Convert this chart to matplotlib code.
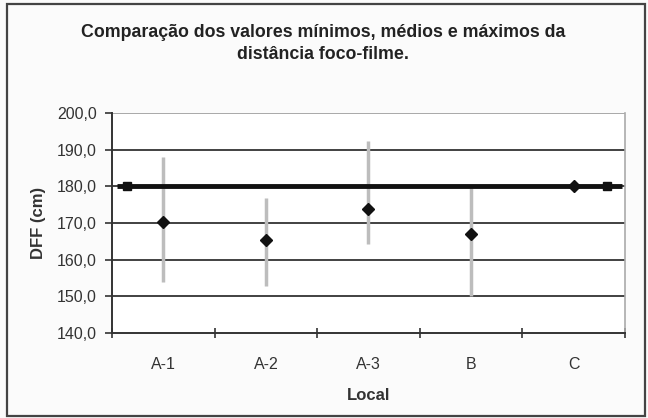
import numpy as np
import matplotlib.pyplot as plt
from matplotlib.patches import Rectangle

plt.rcParams['font.family'] = ['Liberation Sans', 'DejaVu Sans']

locais = ["A-1", "A-2", "A-3", "B", "C"]
dff_min = [154.0, 152.7, 164.4, 150.0, 180.0]
dff_med = [170.3, 165.4, 173.8, 167.0, 180.0]
dff_max = [188.0, 176.8, 192.3, 179.5, 180.0]
dff_ref = 180.0

fig = plt.figure(figsize=(6.48, 4.18), dpi=100, facecolor="#fbfbfb")
ax = fig.add_axes([0.1728, 0.2033, 0.7917, 0.5264])

# moldura externa
fig.patches.append(Rectangle((7 / 648, 1 - 416 / 418), 638 / 648, 412 / 418,
                             transform=fig.transFigure, fill=False,
                             edgecolor="#444444", lw=1.6))

x = np.arange(len(locais))
ax.set_xlim(-0.5, len(locais) - 0.5)
ax.set_ylim(140, 200)

# grade
for v in [150, 160, 170, 180, 190]:
    ax.axhline(v, color="#333333", lw=1.3, zorder=1)
ax.axhline(200, color="#999999", lw=1.2, zorder=1)

# linha de referência 180 cm
ax.hlines(dff_ref, -0.45, len(locais) - 0.53, color="#111111", lw=3.5, zorder=3)
ax.plot([-0.35, len(locais) - 0.68], [dff_ref, dff_ref], ls="none", marker="s",
        ms=6, color="#111111", zorder=3)

# mínimo - máximo
ax.vlines(x, dff_min, dff_max, color="#bdbdbd", lw=2.5, zorder=2)
ax.plot(x, dff_med, ls="none", marker="D", ms=6, color="#111111", zorder=4)

ax.set_xticks(x)
ax.set_xticklabels(locais)
ax.set_xticks(np.arange(len(locais) + 1) - 0.5, minor=True)
ax.tick_params(axis="x", which="major", length=0, pad=17, labelsize=11.5,
               labelcolor="#333333")
ax.tick_params(axis="x", which="minor", length=7, direction="inout",
               width=1.2, color="#333333")
ax.set_yticks(np.arange(140, 201, 10))
ax.set_yticklabels([f"{v:.1f}".replace(".", ",") for v in np.arange(140, 201, 10)])
ax.tick_params(axis="y", length=5, width=1.2, color="#333333", labelsize=11.5,
               labelcolor="#333333", pad=6)

for s in ["left", "bottom"]:
    ax.spines[s].set_color("#333333")
    ax.spines[s].set_linewidth(1.4)
ax.spines["top"].set_visible(False)
ax.spines["right"].set_color("#aaaaaa")
ax.spines["right"].set_linewidth(1.2)

ax.set_xlabel("Local", fontsize=12, fontweight="bold", color="#333333", labelpad=12)
ax.set_ylabel("DFF (cm)", fontsize=12, fontweight="bold", color="#333333", labelpad=8)

fig.text(0.499, 0.896, "Comparação dos valores mínimos, médios e máximos da\ndistância foco-filme.",
         ha="center", va="center", fontsize=12.8, fontweight="bold", color="#222222",
         linespacing=1.35)

fig.savefig("out.png", dpi=100, facecolor=fig.get_facecolor())
